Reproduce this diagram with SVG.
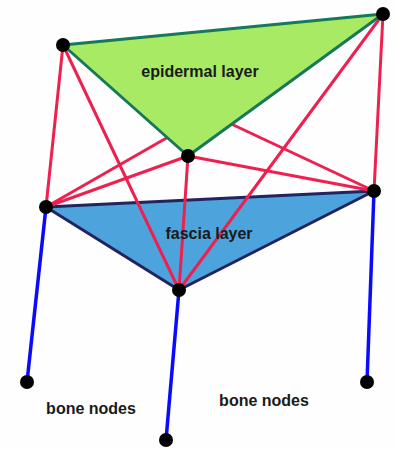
<svg xmlns="http://www.w3.org/2000/svg" width="394" height="449" viewBox="0 0 394 449">
<style>
.red{stroke:#ee2050;stroke-width:3;fill:none;stroke-linecap:round}
.bone{stroke:#0a0aff;stroke-width:3.5;fill:none;stroke-linecap:round}
.node{fill:#000}
.lbl{font-family:"Liberation Sans",Arial,sans-serif;font-weight:bold;font-size:16px;fill:#1a1a1a;text-anchor:middle}
</style>
<rect width="394" height="449" fill="#fdfefd"/>
<g id="fascia-layer">
<polygon points="46,207 374,191 179,290" fill="#4da3dc" stroke="#23235f" stroke-width="3" stroke-linejoin="round"/>
</g>
<g id="connectors">
<line class="red" x1="63" y1="45" x2="46" y2="207"/>
<line class="red" x1="63" y1="45" x2="179" y2="290"/>
<line class="red" x1="63" y1="45" x2="374" y2="191"/>
<line class="red" x1="383" y1="14" x2="374" y2="191"/>
<line class="red" x1="383" y1="14" x2="179" y2="290"/>
<line class="red" x1="383" y1="14" x2="46" y2="207"/>
<line class="red" x1="188" y1="156" x2="46" y2="207"/>
<line class="red" x1="188" y1="156" x2="374" y2="191"/>
<line class="red" x1="188" y1="156" x2="179" y2="290"/>
<line class="bone" x1="46" y1="207" x2="27" y2="382"/>
<line class="bone" x1="179" y1="290" x2="166" y2="440"/>
<line class="bone" x1="374" y1="191" x2="367" y2="382"/>
</g>
<g id="epidermal-layer">
<polygon points="63,45 383,14 188,156" fill="#a8ea64" stroke="#17785a" stroke-width="3" stroke-linejoin="round"/>
<text class="lbl" x="200" y="77">epidermal layer</text>
</g>
<g id="fascia-label">
<text class="lbl" x="209" y="239">fascia layer</text>
</g>
<g id="nodes">
<circle class="node" cx="63" cy="45" r="7"/>
<circle class="node" cx="383" cy="14" r="7"/>
<circle class="node" cx="188" cy="156" r="7"/>
<circle class="node" cx="46" cy="207" r="7"/>
<circle class="node" cx="374" cy="191" r="7"/>
<circle class="node" cx="179" cy="290" r="7"/>
<circle class="node" cx="27" cy="382" r="7"/>
<circle class="node" cx="367" cy="382" r="7"/>
<circle class="node" cx="166" cy="440" r="7"/>
</g>
<g id="bone-labels">
<text class="lbl" x="91" y="414">bone nodes</text>
<text class="lbl" x="264" y="406">bone nodes</text>
</g>
</svg>
